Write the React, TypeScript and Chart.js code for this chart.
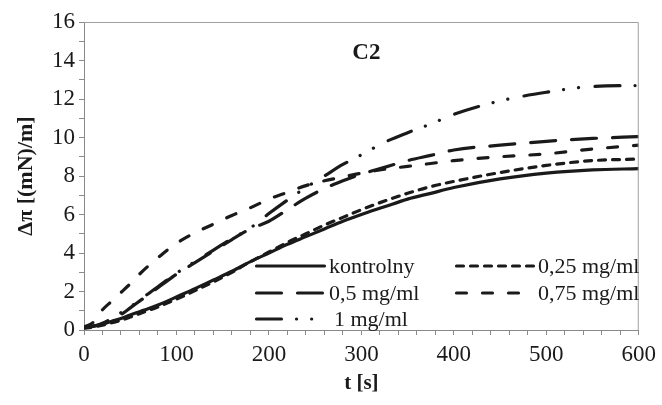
import React, { useEffect, useRef } from 'react';
import { Chart, registerables } from 'chart.js';

Chart.register(...registerables);

const times = [0, 10, 20, 30, 40, 50, 60, 70, 80, 90, 100, 120, 140, 160, 180, 200, 220, 240, 260, 280, 300, 325, 350, 375, 400, 450, 500, 550, 600];
const kontrolny = [0.15, 0.2, 0.3, 0.45, 0.6, 0.78, 0.95, 1.12, 1.3, 1.5, 1.72, 2.15, 2.6, 3.05, 3.55, 4.0, 4.45, 4.85, 5.25, 5.65, 6.0, 6.4, 6.8, 7.1, 7.4, 7.85, 8.15, 8.32, 8.38];
const c025 = [0.1, 0.15, 0.25, 0.38, 0.5, 0.67, 0.85, 1.02, 1.2, 1.4, 1.6, 2.05, 2.5, 3.0, 3.55, 4.05, 4.55, 5.0, 5.45, 5.85, 6.25, 6.7, 7.1, 7.45, 7.72, 8.18, 8.55, 8.8, 8.88];
const c05 = [0.12, 0.2, 0.3, 0.55, 0.8, 1.15, 1.5, 1.85, 2.2, 2.55, 2.9, 3.5, 4.1, 4.7, 5.25, 5.65, 6.25, 6.85, 7.35, 7.75, 8.1, 8.45, 8.8, 9.07, 9.35, 9.6, 9.8, 9.95, 10.05];
const c075 = [0.15, 0.4, 1.05, 1.5, 1.95, 2.4, 2.9, 3.35, 3.75, 4.15, 4.5, 5.05, 5.5, 5.95, 6.35, 6.8, 7.15, 7.5, 7.75, 7.95, 8.15, 8.35, 8.5, 8.65, 8.8, 9.0, 9.15, 9.4, 9.6];
const c1 = [0.15, 0.2, 0.35, 0.6, 0.9, 1.2, 1.55, 1.9, 2.25, 2.6, 2.95, 3.55, 4.15, 4.75, 5.3, 6.05, 6.75, 7.4, 8.0, 8.6, 9.1, 9.75, 10.25, 10.7, 11.2, 11.9, 12.35, 12.65, 12.7];

const seriesLabels = ['kontrolny', '0,25 mg/ml', '0,5 mg/ml', '0,75 mg/ml', '1 mg/ml'];
const seriesValues = [kontrolny, c025, c05, c075, c1];
const dashPatterns: number[][] = [[], [7, 7], [25, 16], [10, 16], [25, 15, 0.1, 15, 0.1, 16.5]];

const chartTitle = 'C2';
const xTitle = 't [s]';
const yTitle = 'Δπ [(mN)/m]';

const FONT = '"Liberation Serif", "Times New Roman", serif';
const INK = '#1a1a1a';

const framePlugin = {
  id: 'frameAndLegend',
  afterDatasetsDraw(chart: any) {
    const { ctx, chartArea: a } = chart;
    ctx.save();
    ctx.strokeStyle = '#a0a0a0';
    ctx.lineWidth = 1;
    ctx.beginPath();
    ctx.moveTo(a.left, a.top + 0.5);
    ctx.lineTo(a.right - 0.5, a.top + 0.5);
    ctx.lineTo(a.right - 0.5, a.bottom);
    ctx.stroke();

    ctx.fillStyle = INK;
    ctx.font = `bold 23px ${FONT}`;
    ctx.textAlign = 'center';
    ctx.textBaseline = 'middle';
    ctx.fillText(chartTitle, a.left + (a.right - a.left) * 0.5 + 5, a.top + 31);

    const colX = [a.left + 171, a.left + 371];
    const sampleW = [71, 80];
    const rowY = [a.bottom - 64, a.bottom - 37, a.bottom - 11];
    ctx.font = `22px ${FONT}`;
    ctx.textAlign = 'left';
    const slots = [
      [0, 0], [0, 1], [1, 0], [1, 1], [2, 0],
    ];
    slots.forEach(([r, c], i) => {
      const x0 = colX[c];
      const y = rowY[r];
      ctx.strokeStyle = INK;
      ctx.lineWidth = 3.2;
      ctx.lineCap = 'round';
      ctx.setLineDash(dashPatterns[i]);
      ctx.beginPath();
      ctx.moveTo(x0 + 1.5, y);
      ctx.lineTo(x0 + sampleW[c] - 1.5, y);
      ctx.stroke();
      ctx.setLineDash([]);
      ctx.fillText(seriesLabels[i], x0 + sampleW[c] + (i === 4 ? 8 : 3), y + 1);
    });
    ctx.restore();
  },
};

export default function App() {
  const ref = useRef<HTMLCanvasElement>(null);
  useEffect(() => {
    document.body.style.margin = '0';
    const canvas = ref.current!;
    const chart = new Chart(canvas, {
      type: 'line',
      data: {
        datasets: seriesValues.map((vals, i) => ({
          label: seriesLabels[i],
          data: times.map((t, j) => ({ x: t, y: vals[j] })),
          borderColor: INK,
          borderWidth: 3.2,
          borderDash: dashPatterns[i],
          borderCapStyle: 'round' as const,
          pointRadius: 0,
          fill: false,
          cubicInterpolationMode: 'monotone' as const,
        })),
      },
      options: {
        animation: false,
        responsive: false,
        maintainAspectRatio: false,
        layout: { padding: { top: 22, right: 20, left: 0, bottom: 0 } },
        plugins: { legend: { display: false }, tooltip: { enabled: false }, title: { display: false } },
        scales: {
          x: {
            type: 'linear',
            min: 0,
            max: 600,
            afterFit: (s: any) => { s.height = 75; },
            border: { color: '#8a8a8a', width: 1 },
            grid: { drawOnChartArea: false, drawTicks: true, tickLength: 5, color: '#8a8a8a' },
            ticks: {
              stepSize: 20,
              autoSkip: false,
              maxRotation: 0,
              padding: 6,
              color: INK,
              font: { family: FONT, size: 23 },
              callback: (v: any) => (Number(v) % 100 === 0 ? String(v) : ''),
            },
            title: {
              display: true,
              text: xTitle,
              color: INK,
              font: { family: FONT, size: 21, weight: 'bold' },
              padding: { top: 0, bottom: 9 },
            },
          },
          y: {
            min: 0,
            max: 16,
            afterFit: (s: any) => { s.width = 84; },
            border: { color: '#8a8a8a', width: 1 },
            grid: { drawOnChartArea: false, drawTicks: true, tickLength: 5, color: '#8a8a8a' },
            ticks: {
              stepSize: 1,
              autoSkip: false,
              padding: 4,
              color: INK,
              font: { family: FONT, size: 23 },
              callback: (v: any) => (Number(v) % 2 === 0 ? String(v) : ''),
            },
            title: {
              display: true,
              text: yTitle,
              color: INK,
              font: { family: FONT, size: 22, weight: 'bold' },
              padding: { top: 13, bottom: 0 },
            },
          },
        },
      },
      plugins: [framePlugin],
    } as any);
    return () => chart.destroy();
  }, []);
  return (
    <div style={{ width: 662, height: 405 }}>
      <canvas ref={ref} width={662} height={405} style={{ width: 662, height: 405, display: 'block' }} />
    </div>
  );
}
